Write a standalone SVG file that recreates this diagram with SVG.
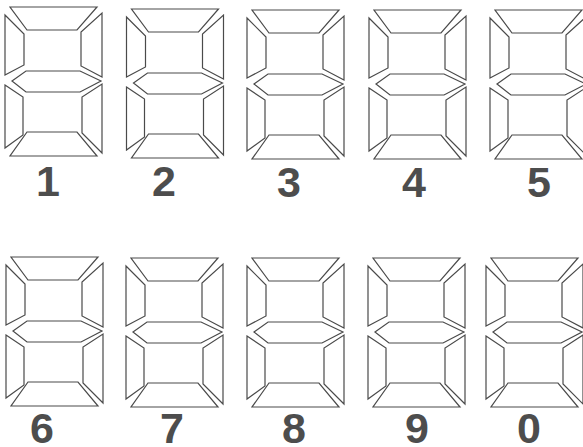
<svg xmlns="http://www.w3.org/2000/svg" xmlns:xlink="http://www.w3.org/1999/xlink" width="583" height="447" viewBox="0 0 583 447">
<style>
.seg{fill:#fff;stroke:#4a4a4a;stroke-width:1.2;stroke-linejoin:miter}
.lbl{font-family:"Liberation Sans",Arial,sans-serif;font-weight:bold;font-size:43px;fill:#4d4d4d;text-anchor:middle}
</style>
<defs>
<g id="seven">
<polygon class="seg" points="10,7 97,7 77,30 27,30"/>
<polygon class="seg" points="5,15 24,34 24,65 5,75"/>
<polygon class="seg" points="102,13 102,77 81,66 81,32"/>
<polygon class="seg" points="12,81 26,71 80,71 101,81 80,92 26,92"/>
<polygon class="seg" points="5,85 23,97 23,135 5,148"/>
<polygon class="seg" points="102,84 102,153 82,133 82,97"/>
<polygon class="seg" points="27,132 77,132 97,156 10,156"/>
</g>
</defs>
<rect width="583" height="447" fill="#fff"/>
<g id="digit-1"><use xlink:href="#seven" href="#seven" transform="translate(0,0)"/><text class="lbl" x="48" y="196">1</text></g>
<g id="digit-2"><use xlink:href="#seven" href="#seven" transform="translate(121.5,2)"/><text class="lbl" x="164" y="196">2</text></g>
<g id="digit-3"><use xlink:href="#seven" href="#seven" transform="translate(242,3)"/><text class="lbl" x="289" y="197">3</text></g>
<g id="digit-4"><use xlink:href="#seven" href="#seven" transform="translate(364,3)"/><text class="lbl" x="414" y="197">4</text></g>
<g id="digit-5"><use xlink:href="#seven" href="#seven" transform="translate(485,3)"/><text class="lbl" x="539" y="197">5</text></g>
<g id="digit-6"><use xlink:href="#seven" href="#seven" transform="translate(1,250)"/><text class="lbl" x="42" y="443">6</text></g>
<g id="digit-7"><use xlink:href="#seven" href="#seven" transform="translate(121,251)"/><text class="lbl" x="172" y="443">7</text></g>
<g id="digit-8"><use xlink:href="#seven" href="#seven" transform="translate(242,251)"/><text class="lbl" x="294" y="443">8</text></g>
<g id="digit-9"><use xlink:href="#seven" href="#seven" transform="translate(363,251)"/><text class="lbl" x="417" y="443">9</text></g>
<g id="digit-0"><use xlink:href="#seven" href="#seven" transform="translate(481,251)"/><text class="lbl" x="529" y="443">0</text></g>
<g id="connectors"/>
</svg>
